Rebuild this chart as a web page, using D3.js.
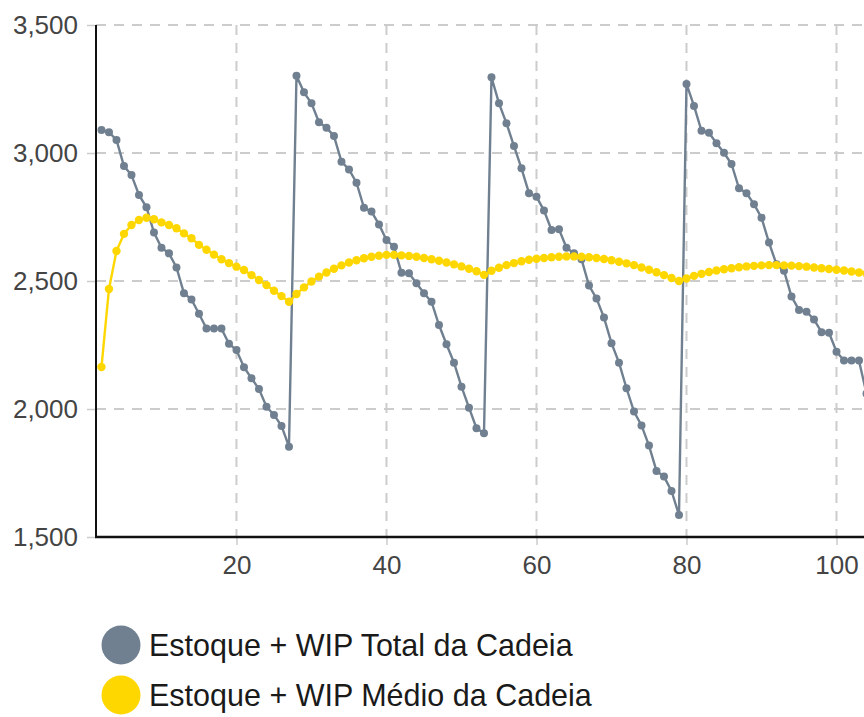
<!DOCTYPE html>
<html>
<head>
<meta charset="utf-8">
<script src="https://cdn.jsdelivr.net/npm/d3@7"></script>
<style>
    body { margin: 0; background: #fff; }
    svg { display: block; font-family: "Liberation Sans", Arial, sans-serif; }
</style>
</head>
<body>
<svg id="chart"></svg>
<script>
// periods 2..104
const periods = d3.range(2, 105);

// Estoque + WIP Total da Cadeia
const totalValues = [
    3090, 3081, 3051, 2949, 2914, 2836, 2788, 2689, 2630, 2608,   // 2-11
    2553, 2452, 2428, 2372, 2314, 2314, 2314, 2255, 2230, 2163,   // 12-21
    2120, 2078, 2009, 1977, 1934, 1853, 3302, 3237, 3194, 3120,   // 22-31
    3099, 3066, 2966, 2936, 2884, 2786, 2771, 2721, 2660, 2634,   // 32-41
    2532, 2530, 2491, 2452, 2419, 2328, 2253, 2181, 2087, 2005,   // 42-51
    1925, 1905, 3296, 3194, 3116, 3027, 2940, 2843, 2829, 2775,   // 52-61
    2699, 2702, 2630, 2608, 2585, 2482, 2432, 2357, 2257, 2181,   // 62-71
    2081, 1990, 1936, 1857, 1758, 1736, 1680, 1586, 3270, 3184,   // 72-81
    3087, 3079, 3038, 3001, 2957, 2862, 2843, 2800, 2747, 2650,   // 82-91
    2565, 2540, 2439, 2387, 2380, 2350, 2300, 2298, 2224, 2189,   // 92-101
    2189, 2189, 2060                                              // 102-104
];

// Estoque + WIP Médio da Cadeia
const averageValues = [
    2164, 2469, 2617, 2684, 2719, 2738, 2747, 2741, 2729, 2719,   // 2-11
    2706, 2686, 2667, 2641, 2622, 2603, 2585, 2570, 2556, 2543,   // 12-21
    2523, 2504, 2484, 2462, 2441, 2419, 2449, 2475, 2498, 2517,   // 22-31
    2533, 2548, 2561, 2572, 2581, 2589, 2595, 2599, 2602, 2602,   // 32-41
    2600, 2598, 2595, 2590, 2585, 2579, 2572, 2565, 2557, 2548,   // 42-51
    2538, 2524, 2540, 2552, 2562, 2570, 2577, 2583, 2587, 2590,   // 52-61
    2593, 2595, 2596, 2596, 2595, 2593, 2590, 2586, 2581, 2575,   // 62-71
    2569, 2562, 2553, 2544, 2534, 2523, 2512, 2500, 2510, 2520,   // 72-81
    2528, 2535, 2541, 2546, 2550, 2554, 2557, 2559, 2561, 2562,   // 82-91
    2562, 2561, 2560, 2558, 2556, 2553, 2550, 2547, 2544, 2541,   // 92-101
    2537, 2533, 2529                                              // 102-104
];

const yTicks = [1500, 2000, 2500, 3000, 3500];
const xTicks = [20, 40, 60, 80, 100];

const seriesNames = [
    "Estoque + WIP Total da Cadeia",
    "Estoque + WIP Médio da Cadeia"
];
const seriesColors = ["#708090", "#ffd700"];

const width = 864, height = 717;
const plot = {left: 96, top: 25, bottom: 537, right: 866.5};

var drawChart = function() {
    let svg = d3.select("#chart")
        .attr("width", width)
        .attr("height", height);

    const x = d3.scaleLinear()
        .domain([1.27, 104])
        .range([plot.left, plot.right]);

    const y = d3.scaleLinear()
        .domain([1500, 3500])
        .range([plot.bottom, plot.top]);

    // dashed grid
    let grid = svg.append("g")
        .attr("stroke", "#cccccc")
        .attr("stroke-width", 2)
        .attr("stroke-dasharray", "10,8");

    grid.selectAll(".vgrid")
        .data(xTicks)
        .enter()
        .append("line")
        .attr("x1", d => x(d))
        .attr("x2", d => x(d))
        .attr("y1", plot.top)
        .attr("y2", plot.bottom);

    grid.selectAll(".hgrid")
        .data(yTicks.filter(d => d > 1500))
        .enter()
        .append("line")
        .attr("x1", plot.left)
        .attr("x2", width)
        .attr("y1", d => y(d))
        .attr("y2", d => y(d));

    // y axis
    let yAxis = svg.append("g")
        .attr("transform", `translate(${plot.left},0)`)
        .call(d3.axisLeft(y).tickValues(yTicks).tickSize(9).tickPadding(9)
            .tickFormat(d3.format(",")));
    yAxis.select(".domain").remove();
    yAxis.selectAll(".tick line").attr("stroke", "#cccccc").attr("stroke-width", 1.5);
    yAxis.selectAll(".tick text")
        .attr("fill", "#444")
        .attr("font-size", 26)
        .attr("font-family", "Liberation Sans, Arial, sans-serif");

    // x axis
    let xAxis = svg.append("g")
        .attr("transform", `translate(0,${plot.bottom})`)
        .call(d3.axisBottom(x).tickValues(xTicks).tickSize(8).tickPadding(11));
    xAxis.select(".domain").remove();
    xAxis.selectAll(".tick line").attr("stroke", "#cccccc").attr("stroke-width", 1.5);
    xAxis.selectAll(".tick text")
        .attr("fill", "#444")
        .attr("font-size", 26)
        .attr("font-family", "Liberation Sans, Arial, sans-serif");

    // series
    const series = [totalValues, averageValues];
    series.forEach(function(values, i) {
        const pts = values.map((v, j) => ({x: periods[j], y: v}));

        svg.append("path")
            .datum(pts)
            .attr("fill", "none")
            .attr("stroke", seriesColors[i])
            .attr("stroke-width", 2.4)
            .attr("d", d3.line().x(d => x(d.x)).y(d => y(d.y)));

        svg.append("g")
            .selectAll("circle")
            .data(pts)
            .enter()
            .append("circle")
            .attr("cx", d => x(d.x))
            .attr("cy", d => y(d.y))
            .attr("r", i === 0 ? 4 : 4.2)
            .attr("fill", seriesColors[i]);
    });

    // black axis lines on top
    svg.append("line")
        .attr("x1", plot.left).attr("x2", plot.left)
        .attr("y1", plot.top).attr("y2", plot.bottom + 1)
        .attr("stroke", "#111").attr("stroke-width", 2);
    svg.append("line")
        .attr("x1", plot.left - 1).attr("x2", width)
        .attr("y1", plot.bottom).attr("y2", plot.bottom)
        .attr("stroke", "#111").attr("stroke-width", 2.5);

    // legend
    let legend = svg.append("g");
    seriesNames.forEach(function(name, i) {
        const cy = 645 + i * 50;
        legend.append("circle")
            .attr("cx", 121)
            .attr("cy", cy)
            .attr("r", 19.5)
            .attr("fill", seriesColors[i]);
        legend.append("text")
            .attr("x", 149)
            .attr("y", cy + 11)
            .attr("font-size", 30.5)
            .attr("fill", "#1a1a1a")
            .text(name);
    });

    return svg;
};

drawChart();
</script>
</body>
</html>
